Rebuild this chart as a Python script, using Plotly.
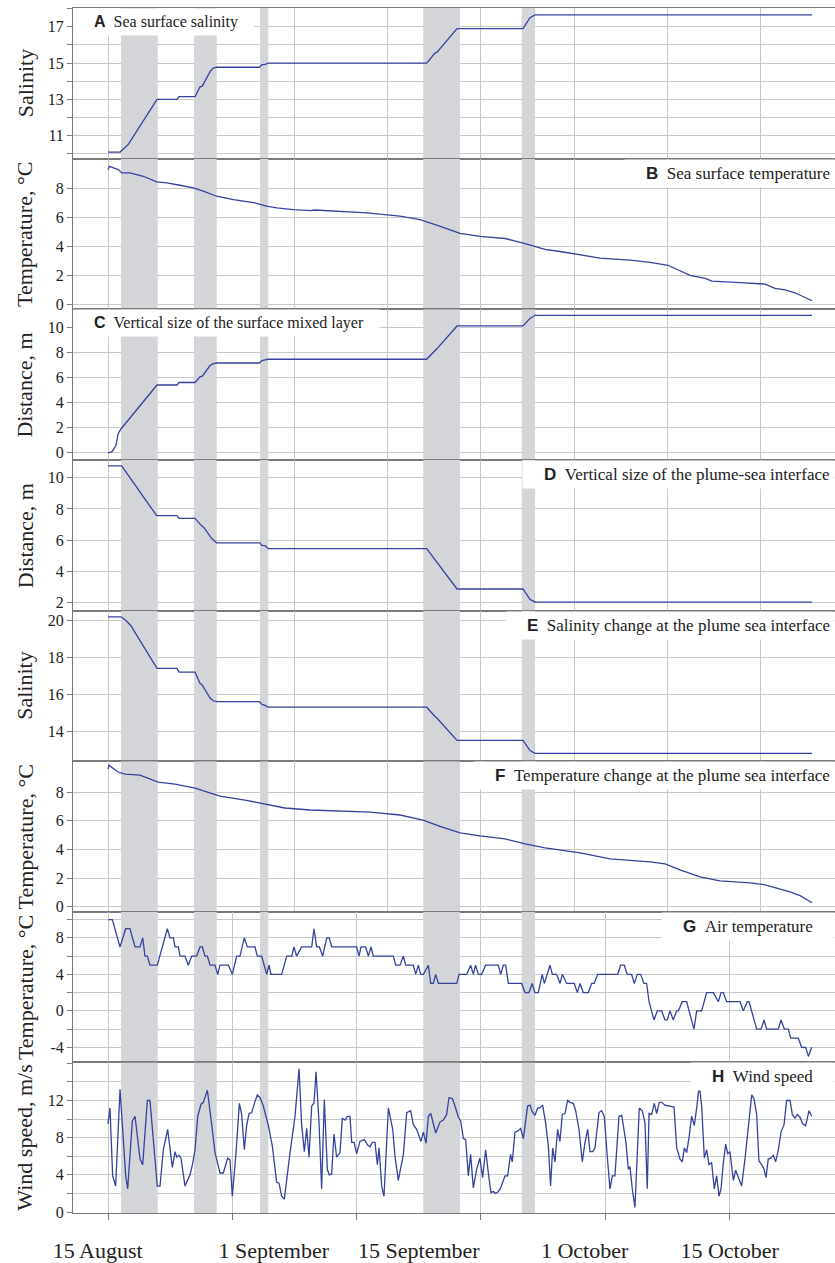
import plotly.graph_objects as go

# ---------------- time axis: days counted from 15 August ----------------
date_ticks = [0, 17, 31, 47, 61]
date_labels = ["15 August", "1 September", "15 September", "1 October", "15 October"]

# periods of intensive mixing (grey bands)
band_start = [2.25, 9.30, 15.67, 31.43, 40.93]
band_end = [5.80, 11.49, 16.47, 34.98, 42.22]

# ---------------- A: sea surface salinity ----------------
sss_day = [1.0, 2.16, 2.93, 5.73, 7.66, 7.85, 9.40, 9.88, 10.10, 10.85, 11.16, 11.49,
           15.60, 15.84, 16.15, 16.47, 31.76, 32.56, 32.76, 34.69, 41.06, 41.73, 42.22, 68.95]
sss_val = [10.1, 10.1, 10.5, 13.0, 13.0, 13.15, 13.15, 13.69, 13.73, 14.53, 14.72, 14.77,
           14.77, 14.9, 14.93, 15.0, 15.0, 15.55, 15.6, 16.9, 16.9, 17.5, 17.65, 17.65]

# ---------------- B: sea surface temperature ----------------
sst_day = [1.0, 1.13, 1.99, 2.32, 3.12, 4.41, 5.70, 6.66, 7.95, 9.24, 10.2, 11.49, 13.1,
           14.07, 15.19, 16.32, 17.28, 18.89, 20.5, 20.98, 22.75, 25.97, 29.19, 31.12,
           33.0, 34.98, 36.91, 39.32, 41.25, 43.18, 44.63, 46.56, 48.49, 51.39, 53.32,
           55.05, 56.21, 57.18, 58.63, 59.30, 62.0, 64.42, 65.38, 66.35, 67.31, 68.95]
sst_val = [9.31, 9.54, 9.31, 9.08, 9.08, 8.85, 8.46, 8.39, 8.23, 8.05, 7.82, 7.47, 7.24,
           7.13, 7.01, 6.78, 6.67, 6.55, 6.48, 6.52, 6.45, 6.32, 6.09, 5.86,
           5.4, 4.9, 4.7, 4.55, 4.2, 3.8, 3.65, 3.4, 3.2, 3.05, 2.9,
           2.7, 2.3, 2.0, 1.8, 1.6, 1.5, 1.4, 1.1, 1.0, 0.8, 0.25]

# ---------------- C: vertical size of the surface mixed layer ----------------
mld_day = [1.0, 1.39, 1.77, 1.97, 2.25, 5.73, 7.66, 7.85, 9.40, 9.88, 10.10, 10.85, 11.16,
           11.52, 15.60, 15.86, 16.15, 16.44, 31.76, 32.56, 32.76, 34.69, 41.06, 41.73,
           42.22, 68.95]
mld_val = [0.0, 0.1, 0.6, 1.5, 1.9, 5.4, 5.4, 5.6, 5.6, 6.05, 6.1, 6.95, 7.1,
           7.15, 7.15, 7.35, 7.4, 7.45, 7.45, 8.2, 8.3, 10.1, 10.1, 10.7,
           10.95, 10.95]

# ---------------- D: vertical size of the plume-sea interface ----------------
psi_day = [1.0, 2.32, 5.70, 7.66, 7.85, 9.40, 10.04, 10.27, 11.01, 11.49, 15.67, 15.84,
           16.15, 16.47, 31.76, 32.56, 32.76, 34.69, 41.06, 41.73, 42.22, 68.95]
psi_val = [10.77, 10.77, 7.57, 7.57, 7.4, 7.4, 6.92, 6.8, 6.1, 5.83, 5.83, 5.67,
           5.65, 5.46, 5.46, 4.76, 4.63, 2.87, 2.87, 2.2, 2.03, 2.03]

# ---------------- E: salinity change at the plume-sea interface ----------------
dsal_day = [1.0, 2.25, 2.74, 3.22, 5.73, 7.66, 7.85, 9.40, 9.88, 10.10, 10.85, 11.16,
            11.52, 15.60, 15.86, 16.15, 16.44, 31.76, 32.56, 32.76, 34.69, 41.06, 41.73,
            42.22, 68.95]
dsal_val = [20.2, 20.2, 20.0, 19.7, 17.4, 17.4, 17.2, 17.2, 16.6, 16.5, 15.8, 15.65,
            15.6, 15.6, 15.45, 15.4, 15.3, 15.3, 14.8, 14.7, 13.5, 13.5, 12.95,
            12.8, 12.8]

# ---------------- F: temperature change at the plume-sea interface ----------------
dtem_day = [1.0, 1.1, 1.48, 1.97, 2.64, 4.09, 5.83, 7.47, 9.4, 10.36, 11.81, 14.22, 16.15,
            18.08, 20.5, 23.39, 26.29, 29.19, 31.41, 33.05, 34.98, 36.91, 39.32, 41.25,
            43.18, 46.56, 49.46, 53.32, 54.77, 56.21, 58.14, 60.07, 62.97, 64.42, 65.86,
            66.83, 67.80, 68.95]
dtem_val = [9.6, 9.88, 9.67, 9.4, 9.25, 9.18, 8.7, 8.56, 8.28, 8.07, 7.72, 7.44, 7.17,
            6.89, 6.75, 6.7, 6.6, 6.4, 6.05, 5.6, 5.15, 4.94, 4.73, 4.38,
            4.1, 3.76, 3.34, 3.13, 2.99, 2.57, 2.09, 1.81, 1.67, 1.53, 1.25,
            1.04, 0.77, 0.28]

# ---------------- G: air temperature ----------------
air_day = [1.03, 1.42, 2.16, 2.71, 3.12, 3.61, 4.09, 4.35, 4.57, 4.80, 5.05, 5.76, 6.73,
           6.98, 7.31, 7.47, 7.79, 7.95, 8.43, 8.75, 9.08, 9.56, 9.88, 10.11, 10.36, 10.59,
           10.85, 11.33, 11.59, 11.81, 12.62, 13.00, 13.42, 13.74, 14.16, 14.45, 15.19,
           15.41, 15.83, 16.32, 16.54, 16.73, 17.76, 18.25, 18.73, 18.95, 19.21, 19.69,
           20.66, 20.88, 21.14, 21.40, 21.72, 22.11, 22.36, 22.59, 25.00, 25.23, 25.42,
           25.87, 26.13, 26.39, 26.61, 28.54, 28.77, 29.19, 29.51, 29.73, 30.47, 30.70,
           30.95, 31.18, 31.44, 31.92, 32.15, 32.40, 32.63, 32.89, 34.66, 34.88, 35.62,
           36.00, 36.26, 36.48, 36.74, 37.06, 37.45, 38.67, 38.90, 39.16, 39.38, 39.64,
           40.93, 41.25, 41.63, 41.95, 42.21, 42.53, 42.92, 43.11, 43.66, 43.89, 44.30,
           44.63, 44.85, 45.27, 46.01, 46.30, 46.56, 46.88, 47.36, 47.68, 47.94, 48.26,
           50.19, 50.48, 50.83, 51.12, 51.54, 51.80, 52.09, 52.41, 52.73, 52.99, 53.22,
           53.70, 54.02, 54.44, 54.76, 54.99, 55.24, 55.56, 55.89, 56.05, 56.43, 56.85,
           57.56, 57.82, 58.30, 58.78, 59.43, 59.91, 60.17, 60.39, 60.71, 62.00, 62.32,
           62.71, 62.87, 63.61, 64.03, 64.32, 64.57, 65.70, 65.96, 66.28, 66.67, 66.89,
           67.63, 67.95, 68.34, 68.60, 68.92]
air_val = [10, 10, 7, 9, 9, 7, 7, 8, 6, 6, 5, 5, 9,
           8, 8, 7, 7, 6, 6, 5, 6, 6, 7, 7, 6, 6,
           5, 5, 4, 5, 5, 4, 6, 6, 8, 7, 7,
           6, 6, 4, 5, 4, 4, 6, 6, 7, 6, 7,
           7, 9, 7, 7, 6, 8, 8, 7, 7, 6, 7,
           7, 6, 7, 6, 6, 5, 5, 6, 5, 5, 4,
           5, 4, 4, 5, 3, 3, 4, 3, 3, 4, 4,
           5, 4, 5, 4, 4, 5, 5, 4, 5, 5, 3,
           3, 2, 2, 3, 2, 2, 4, 3, 5, 4, 4,
           3, 4, 3, 3, 2, 3, 2, 2, 3, 3, 4,
           4, 5, 5, 4, 4, 3, 4, 4, 3, 3, 1,
           -1, 0, 0, -1, -1, 0, -1, 0, 0, 1, 1,
           -2, 0, 0, 2, 2, 1, 2, 2, 1, 1, 0,
           1, 1, -2, -2, -1, -2, -2, -1, -2, -2, -3,
           -3, -4, -4, -5, -4]

# ---------------- H: wind speed ----------------
wind_day = [1.0, 1.19, 1.45, 1.74, 2.16, 2.71, 2.90, 3.35, 3.61, 4.09, 4.35, 4.80, 5.05,
            5.76, 6.02, 6.34, 6.76, 7.21, 7.47, 7.63, 7.85, 8.05, 8.43, 8.92, 9.17, 9.40,
            9.66, 9.98, 10.20, 10.59, 11.01, 11.33, 11.81, 12.13, 12.55, 12.78, 13.00,
            13.36, 13.68, 13.90, 14.16, 14.38, 14.61, 14.87, 15.19, 15.41, 15.67, 15.99,
            16.48, 16.86, 17.28, 17.51, 17.76, 18.02, 18.57, 19.05, 19.44, 19.69, 19.95,
            20.18, 20.40, 20.66, 20.88, 21.08, 21.37, 21.62, 21.88, 22.17, 22.36, 22.59,
            22.81, 23.07, 23.39, 23.62, 23.88, 24.10, 24.36, 24.52, 24.75, 25.00, 25.32,
            25.74, 26.06, 26.29, 26.51, 26.77, 27.00, 27.16, 27.42, 27.64, 28.06, 28.48,
            28.70, 29.02, 29.51, 29.83, 30.21, 30.47, 30.79, 31.21, 31.44, 31.70, 31.92,
            32.15, 32.63, 33.05, 33.37, 33.69, 33.91, 34.24, 34.49, 34.82, 35.04, 35.30,
            35.52, 35.78, 36.00, 36.26, 36.58, 36.90, 37.16, 37.45, 37.71, 37.96, 38.19,
            38.42, 38.67, 38.90, 39.32, 39.57, 39.86, 40.02, 40.28, 40.54, 40.83, 41.09,
            41.50, 41.73, 41.95, 42.21, 42.47, 42.69, 42.95, 43.24, 43.50, 43.72, 43.92,
            44.14, 44.40, 44.62, 44.85, 45.11, 45.36, 45.59, 45.91, 46.14, 46.46, 46.78,
            47.04, 47.30, 47.52, 47.78, 48.00, 48.39, 48.65, 48.90, 49.19, 49.45, 49.68,
            49.93, 50.32, 50.58, 50.80, 50.99, 51.22, 51.38, 51.61, 51.86, 52.28, 52.57,
            52.83, 53.05, 53.22, 53.47, 53.73, 53.96, 54.21, 54.44, 54.76, 55.40, 55.63,
            55.89, 56.21, 56.43, 56.63, 56.85, 57.08, 57.33, 57.59, 57.82, 58.07, 58.30,
            58.56, 58.78, 59.01, 59.26, 59.52, 59.75, 59.97, 60.17, 60.39, 60.62, 60.81,
            61.03, 61.36, 61.58, 61.84, 62.16, 62.48, 62.71, 62.96, 63.13, 63.35, 63.61,
            63.83, 64.09, 64.32, 64.51, 64.73, 64.96, 65.22, 65.44, 65.70, 65.96, 66.25,
            66.50, 66.83, 67.05, 67.31, 67.53, 67.79, 68.05, 68.34, 68.66, 68.92]
wind_val = [9.5, 11.2, 3.9, 2.8, 13.2, 3.9, 2.5, 9.8, 10.3, 5.7, 5.1, 12.0, 12.0,
            2.8, 2.8, 6.7, 8.9, 4.8, 6.5, 5.9, 6.1, 5.8, 2.8, 4.0, 5.2, 6.7,
            10.3, 11.6, 11.8, 13.1, 9.4, 6.4, 4.2, 4.2, 5.8, 5.6, 1.7,
            6.4, 11.7, 10.5, 6.7, 9.3, 10.6, 10.7, 11.9, 12.6, 12.3, 11.4,
            9.3, 7.1, 3.2, 3.1, 1.7, 1.4, 6.4, 10.3, 15.4, 9.4, 6.5,
            9.0, 5.9, 11.4, 11.7, 15.1, 9.6, 2.5, 12.1, 4.6, 4.0, 4.1,
            8.4, 5.9, 6.4, 10.1, 9.9, 10.3, 10.3, 7.5, 7.5, 6.3, 7.6,
            7.8, 7.2, 7.0, 7.5, 7.5, 5.1, 6.9, 2.8, 1.7, 11.2, 8.9,
            6.0, 3.4, 6.2, 10.7, 10.9, 9.4, 8.9, 7.6, 8.6, 7.4, 10.3,
            10.6, 8.5, 9.7, 9.9, 10.5, 12.3, 12.2, 11.4, 10.2, 9.8, 7.9,
            7.8, 3.9, 6.2, 2.6, 4.6, 5.8, 3.7, 6.7, 4.2, 2.1, 2.2,
            2.0, 2.2, 2.6, 3.9, 3.9, 6.2, 5.4, 8.6, 8.7, 9.0, 7.9,
            11.4, 11.5, 10.8, 10.4, 11.2, 11.2, 11.5, 9.6, 7.1, 2.8, 6.9,
            5.4, 8.9, 7.6, 10.5, 10.6, 12.0, 11.8, 11.7, 10.9, 8.9, 5.4,
            7.5, 8.9, 6.5, 6.5, 6.9, 10.7, 10.9, 10.3, 6.0, 2.5, 3.9,
            3.9, 10.3, 10.4, 8.9, 7.5, 4.6, 4.9, 2.4, 0.5, 11.2, 10.9,
            9.6, 2.5, 10.6, 10.5, 11.7, 10.6, 11.8, 11.8, 11.5, 11.3, 11.3,
            6.9, 5.7, 5.4, 6.9, 6.4, 8.0, 10.3, 9.3, 11.2, 13.7, 11.4,
            5.8, 6.7, 5.1, 5.3, 2.5, 3.9, 1.7, 2.5, 5.3, 7.3, 6.3,
            6.5, 3.4, 4.5, 3.7, 2.8, 5.7, 8.0, 10.7, 12.6, 12.2, 10.5,
            5.5, 5.1, 4.6, 3.7, 5.7, 5.8, 6.1, 5.4, 6.7, 8.6, 9.4,
            12.0, 12.0, 10.5, 10.1, 10.5, 10.2, 9.5, 9.3, 10.9, 10.3]

# ---------------- styling ----------------
SERIF = "Liberation Serif, Times New Roman, serif"
SANS = "Liberation Sans, Arial, sans-serif"
LINE = "#35439e"
GRID = "#c8c8c8"
FRAME = "#7a7a7a"
BAND = "#d3d5d8"
TEXT = "#222222"
X_RANGE = [-2.378, 71.17]
NB = "&nbsp;"

panels = [
    dict(x=sss_day, y=sss_val, title="Salinity", rng=[9.74, 18.03],
         tv=[10, 11, 12, 13, 14, 15, 16, 17, 18],
         tt=["", "11", "", "13", "", "15", "", "17", ""],
         letter="A", text="Sea surface salinity", side="left", grid=9, fs=16),
    dict(x=sst_day, y=sst_val, title="Temperature, °C", rng=[-0.34, 10.07],
         tv=[0, 2, 4, 6, 8], tt=["0", "2", "4", "6", "8"],
         letter="B", text="Sea surface temperature", side="right", grid=9, tail=0, fs=17),
    dict(x=mld_day, y=mld_val, title="Distance, m", rng=[-0.56, 11.43],
         tv=[0, 2, 4, 6, 8, 10], tt=["0", "2", "4", "6", "8", "10"],
         letter="C", text="Vertical size of the surface mixed layer", side="left", grid=9,
         fs=16),
    dict(x=psi_day, y=psi_val, title="Distance, m", rng=[1.49, 11.15],
         tv=[2, 4, 6, 8, 10], tt=["2", "4", "6", "8", "10"],
         letter="D", text="Vertical size of the plume-sea interface", side="right", grid=9,
         tail=0, fs=17),
    dict(x=dsal_day, y=dsal_val, title="Salinity", rng=[12.38, 20.54],
         tv=[14, 16, 18, 20], tt=["14", "16", "18", "20"],
         letter="E", text="Salinity change at the plume sea interface", side="right", grid=9,
         tail=0, fs=17),
    dict(x=dtem_day, y=dtem_val, title="Temperature, °C", rng=[-0.35, 10.16],
         tv=[0, 2, 4, 6, 8], tt=["0", "2", "4", "6", "8"],
         letter="F", text="Temperature change at the plume sea interface", side="right", grid=9,
         tail=0, fs=17),
    dict(x=air_day, y=air_val, title="Temperature, °C", rng=[-5.65, 10.86],
         tv=[-4, -2, 0, 2, 4, 6, 8, 10], tt=["-4", "", "0", "", "4", "", "8", ""],
         letter="G", text="Air temperature", side="right", grid=12, tail=4, fs=17),
    dict(x=wind_day, y=wind_val, title="Wind speed, m/s", rng=[-0.1, 16.1],
         tv=[0, 2, 4, 6, 8, 10, 12, 14, 16], tt=["0", "", "4", "", "8", "", "12", "", ""],
         letter="H", text="Wind speed", side="right", grid=12, tail=4, fs=17),
]

n = len(panels)
fig = go.Figure()
layout = {}
shapes = []
annotations = []

for i, p in enumerate(panels):
    k = i + 1
    sfx = "" if k == 1 else str(k)
    xa, ya = "x" + sfx, "y" + sfx
    top = 1 - i / n
    bot = 1 - (i + 1) / n

    fig.add_trace(go.Scatter(x=p["x"], y=p["y"], mode="lines",
                             line=dict(color=LINE, width=1.3),
                             xaxis=xa, yaxis=ya, showlegend=False,
                             hoverinfo="skip"))

    layout["xaxis" + sfx] = dict(
        domain=[0, 1], anchor=ya, range=X_RANGE, tickmode="linear", tick0=1,
        dtick=p["grid"], showticklabels=False, showgrid=True, gridcolor=GRID,
        gridwidth=1, zeroline=False, showline=True, mirror=True, linecolor=FRAME,
        linewidth=1.2, ticks="outside" if k == n else "", ticklen=6,
        tickcolor=FRAME)
    layout["yaxis" + sfx] = dict(
        domain=[bot, top], anchor=xa, range=p["rng"], tickmode="array",
        tickvals=p["tv"], ticktext=p["tt"], showgrid=True, gridcolor=GRID,
        gridwidth=1, zeroline=False, showline=True, linecolor=FRAME, linewidth=1,
        ticks="outside", ticklen=5, tickcolor=FRAME,
        tickfont=dict(family=SERIF, size=16, color=TEXT))

    # mixing periods, spanning the full height of the panel
    for b0, b1 in zip(band_start, band_end):
        shapes.append(dict(type="rect", xref=xa, yref=ya,
                           x0=b0, x1=b1, y0=p["rng"][0], y1=p["rng"][1],
                           fillcolor=BAND, line=dict(width=0), layer="between"))

    # vertical axis title
    annotations.append(dict(text=p["title"], textangle=-90, showarrow=False,
                            xref="paper", x=-0.063, xanchor="center",
                            yref=ya + " domain", y=0.5, yanchor="middle",
                            font=dict(family=SERIF, size=22, color=TEXT)))

    # panel caption: bold sans letter followed by serif text
    cap = (f"<span style='font-family:{SANS}'><b>{p['letter']}</b></span>"
           f"<span style='font-family:{SERIF}'>{NB}{NB}{p['text']}</span>")
    if p["side"] == "left":
        annotations.append(dict(text=NB * 4 + cap + NB * 3,
                                showarrow=False, xref=xa + " domain", x=0,
                                xanchor="left", yref=ya + " domain", y=1,
                                yanchor="top", bgcolor="white", borderpad=4,
                                font=dict(family=SERIF, size=p["fs"], color=TEXT)))
    else:
        annotations.append(dict(text=NB * 4 + cap + NB * p["tail"],
                                showarrow=False, xref=xa + " domain",
                                x=1, xanchor="right",
                                yref=ya + " domain", y=1, yanchor="top",
                                bgcolor="white", borderpad=4,
                                font=dict(family=SERIF, size=p["fs"], color=TEXT)))

# date labels on an overlay axis under the bottom panel
fig.add_trace(go.Scatter(x=[None], y=[None], xaxis="x9", yaxis="y8",
                         showlegend=False, hoverinfo="skip"))
layout["xaxis9"] = dict(domain=[0, 1], overlaying="x8", anchor="y8", side="bottom",
                        range=X_RANGE, tickmode="array", tickvals=date_ticks,
                        ticktext=date_labels, showgrid=False, showline=False,
                        zeroline=False, ticks="", ticklabelstandoff=22,
                        tickfont=dict(family=SERIF, size=22, color=TEXT))

fig.update_layout(**layout)
fig.update_layout(
    width=835, height=1263,
    margin=dict(l=73, r=0, t=8, b=48),
    paper_bgcolor="white", plot_bgcolor="white",
    shapes=shapes, annotations=annotations,
    showlegend=False,
)

fig.write_html("out.html")
